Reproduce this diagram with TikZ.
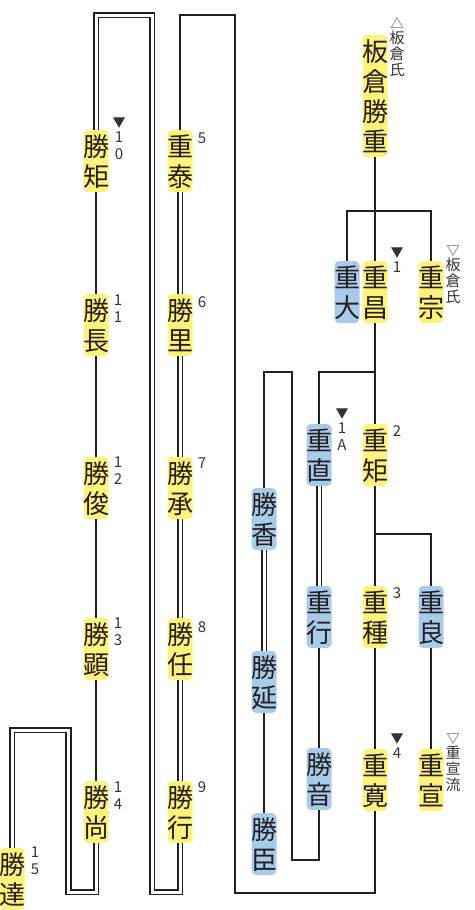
\documentclass[tikz,border=0pt]{standalone}
\usepackage{fontspec}
\newfontfamily\cjk{Noto Sans CJK JP}
\definecolor{yel}{HTML}{FFF27A}
\definecolor{blu}{HTML}{A9CBEA}
\definecolor{ink}{HTML}{231F20}
\definecolor{lab}{HTML}{333333}
\newcommand\kc[1]{\hbox to 25pt{\hss\vrule height 25pt depth 5pt width 0pt #1\hss}}
\newcommand\sk[1]{\hbox to 16pt{\hss\vrule height 12.5pt depth 3.5pt width 0pt #1\hss}}
\newcommand\dg[1]{\hbox to 16pt{\hss\vrule height 12pt depth 5pt width 0pt #1\hss}}
\newcommand\tr[1]{\hbox to 16pt{\hss\vrule height 12pt depth 3pt width 0pt {\fontsize{13}{15}\selectfont #1}\hss}}
\newcommand\vs[1]{\vbox{\offinterlineskip #1}}
\tikzset{
  box/.style={inner xsep=0pt, inner ysep=1pt, rounded corners=4.5pt, text=ink,
    font=\cjk\fontsize{26}{30}\selectfont},
  yb/.style={box, fill=yel},
  bb/.style={box, fill=blu},
  ln/.style={draw=ink, line width=1.6pt},
  dl/.style={draw=ink, line width=1.9pt, double=white, double distance=3pt},
  lbl/.style={inner sep=0pt, anchor=north, text=lab, font=\cjk\fontsize{15}{16}\selectfont}
}
\begin{document}
\begin{tikzpicture}[x=1pt,y=-1pt]
\useasboundingbox (0,0) rectangle (474,910);
% ---- nodes ----
\node[yb] (itakura) at (375,96) {\vs{\kc{板}\kc{倉}\kc{勝}\kc{重}}};
\node[bb] (shigehira) at (347,292) {\vs{\kc{重}\kc{大}}};
\node[yb] (shigemasa) at (375,292) {\vs{\kc{重}\kc{昌}}};
\node[yb] (shigemune) at (431,292) {\vs{\kc{重}\kc{宗}}};
\node[bb] (shigenao) at (319,455) {\vs{\kc{重}\kc{直}}};
\node[yb] (shigenori) at (375,455) {\vs{\kc{重}\kc{矩}}};
\node[bb] (katsuka) at (264,519) {\vs{\kc{勝}\kc{香}}};
\node[bb] (shigeyuki) at (319,617) {\vs{\kc{重}\kc{行}}};
\node[yb] (shigetane) at (375,617) {\vs{\kc{重}\kc{種}}};
\node[bb] (shigeyoshi) at (431,617) {\vs{\kc{重}\kc{良}}};
\node[bb] (katsunobu) at (264,682) {\vs{\kc{勝}\kc{延}}};
\node[bb] (katsune) at (319,779) {\vs{\kc{勝}\kc{音}}};
\node[yb] (shigehiro) at (375,780) {\vs{\kc{重}\kc{寛}}};
\node[yb] (shigenobu) at (431,780) {\vs{\kc{重}\kc{宣}}};
\node[bb] (katsuomi) at (264,844) {\vs{\kc{勝}\kc{臣}}};
\node[yb] (katsunori) at (96,161) {\vs{\kc{勝}\kc{矩}}};
\node[yb] (shigeyasu) at (180,161) {\vs{\kc{重}\kc{泰}}};
\node[yb] (katsunaga) at (96,325) {\vs{\kc{勝}\kc{長}}};
\node[yb] (katsusato) at (180,325) {\vs{\kc{勝}\kc{里}}};
\node[yb] (katsutoshi) at (96,488) {\vs{\kc{勝}\kc{俊}}};
\node[yb] (katsuyoshi) at (180,488) {\vs{\kc{勝}\kc{承}}};
\node[yb] (katsuaki) at (96,649) {\vs{\kc{勝}\kc{顕}}};
\node[yb] (katsutada) at (180,649) {\vs{\kc{勝}\kc{任}}};
\node[yb] (katsuhisa) at (96,812) {\vs{\kc{勝}\kc{尚}}};
\node[yb] (katsuyuki) at (180,812) {\vs{\kc{勝}\kc{行}}};
\node[yb] (katsumichi) at (12,879) {\vs{\kc{勝}\kc{達}}};
% ---- labels ----
\node[lbl] (l1) at (397,16) {\vs{\tr{△}\sk{板}\sk{倉}\sk{氏}}};
\node[lbl] (l2) at (397,245) {\vs{\tr{▼}\dg{1}}};
\node[lbl] (l3) at (453,243) {\vs{\tr{▽}\sk{板}\sk{倉}\sk{氏}}};
\node[lbl] (l4) at (342,406) {\vs{\tr{▼}\dg{1}\dg{A}}};
\node[lbl] (l5) at (397,424) {\vs{\dg{2}}};
\node[lbl] (l6) at (397,586) {\vs{\dg{3}}};
\node[lbl] (l7) at (397,731) {\vs{\tr{▼}\dg{4}}};
\node[lbl] (l8) at (453,731) {\vs{\tr{▽}\sk{重}\sk{宣}\sk{流}}};
\node[lbl] (l9) at (119,115) {\vs{\tr{▼}\dg{1}\dg{0}}};
\node[lbl] (l10) at (202,131) {\vs{\dg{5}}};
\node[lbl] (l11) at (118,293) {\vs{\dg{1}\dg{1}}};
\node[lbl] (l12) at (202,295) {\vs{\dg{6}}};
\node[lbl] (l13) at (118,455) {\vs{\dg{1}\dg{2}}};
\node[lbl] (l14) at (202,456) {\vs{\dg{7}}};
\node[lbl] (l15) at (118,616) {\vs{\dg{1}\dg{3}}};
\node[lbl] (l16) at (202,620) {\vs{\dg{8}}};
\node[lbl] (l17) at (118,780) {\vs{\dg{1}\dg{4}}};
\node[lbl] (l18) at (202,780) {\vs{\dg{9}}};
\node[lbl] (l19) at (35,845) {\vs{\dg{1}\dg{5}}};
% ---- junction coordinates ----
\coordinate (j1) at (375,211);
\coordinate (j2) at (375,372);
\coordinate (j3) at (375,534);
\coordinate (c1) at (292,860);
\coordinate (c2) at (292,372);
\coordinate (d1) at (235,893);
\coordinate (d2) at (235,15);
\coordinate (e1) at (152,892);
\coordinate (e2) at (152,15);
\coordinate (f1) at (68.5,892);
\coordinate (f2) at (68.5,730);
% ---- connectors ----
\draw[ln] (itakura.south) -- (shigemasa.north);
\draw[ln] (shigehira.north) |- (j1) -| (shigemune.north);
\draw[ln] (shigemasa.south) -- (shigenori.north);
\draw[ln] (j2) -| (shigenao.north);
\draw[dl] (shigenao.south) -- (shigeyuki.north);
\draw[ln] (shigeyuki.south) -- (katsune.north);
\draw[ln] (katsune.south) |- (c1) -- (c2) -| (katsuka.north);
\draw[dl] (katsuka.south) -- (katsunobu.north);
\draw[ln] (katsunobu.south) -- (katsuomi.north);
\draw[ln] (shigenori.south) -- (shigetane.north);
\draw[ln] (j3) -| (shigeyoshi.north);
\draw[ln] (shigetane.south) -- (shigehiro.north);
\draw[ln] (shigeyoshi.south) -- (shigenobu.north);
\draw[ln] (shigehiro.south) |- (d1) -- (d2) -| (shigeyasu.north);
\draw[dl] (shigeyasu.south) -- (katsusato.north);
\draw[dl] (katsusato.south) -- (katsuyoshi.north);
\draw[dl] (katsuyoshi.south) -- (katsutada.north);
\draw[dl] (katsutada.south) -- (katsuyuki.north);
\draw[dl] (katsuyuki.south) |- (e1) -- (e2) -| (katsunori.north);
\draw[ln] (katsunori.south) -- (katsunaga.north);
\draw[ln] (katsunaga.south) -- (katsutoshi.north);
\draw[ln] (katsutoshi.south) -- (katsuaki.north);
\draw[ln] (katsuaki.south) -- (katsuhisa.north);
\draw[dl] (katsuhisa.south) |- (f1) -- (f2) -| (katsumichi.north);
\end{tikzpicture}
\end{document}
